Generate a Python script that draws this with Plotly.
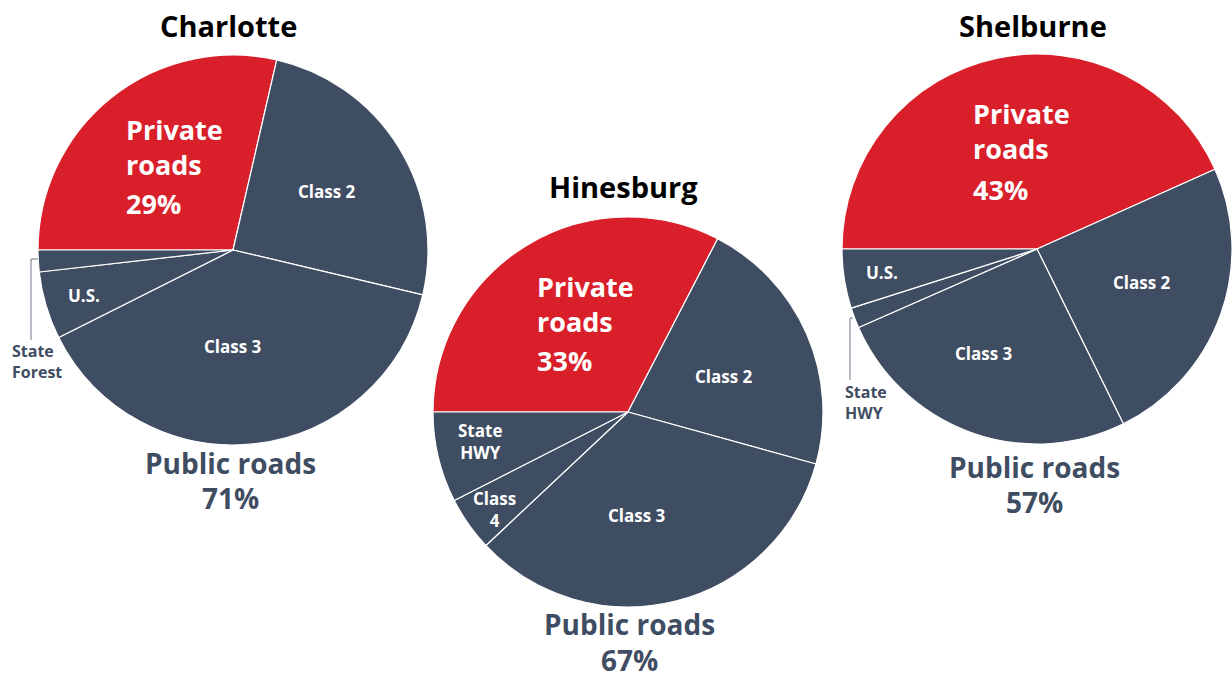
import plotly.graph_objects as go

# ---------------- data ----------------
towns = ["Charlotte", "Hinesburg", "Shelburne"]

charlotte_labels = ["Private roads", "Class 2", "Class 3", "U.S.", "State Forest"]
charlotte_values = [28.6, 25.1, 38.9, 5.6, 1.8]

hinesburg_labels = ["Private roads", "Class 2", "Class 3", "Class 4", "State HWY"]
hinesburg_values = [32.6, 21.7, 33.7, 4.5, 7.5]

shelburne_labels = ["Private roads", "Class 2", "Class 3", "State HWY", "U.S."]
shelburne_values = [43.3, 24.4, 25.7, 1.7, 4.9]

private_pct = [29, 33, 43]
public_pct = [71, 67, 57]

# ---------------- styling / layout ----------------
W, H = 1232, 679
RED = "#d9202a"
SLATE = "#3f4d63"
LEADER = "#8e98a5"
FONT = "Open Sans"


def fx(p):
    return p / W


def fy(p):
    return 1 - p / H


# pie circles in pixels: (cx, cy, r)
circles = [(233, 250, 195), (628, 412, 195), (1037, 249, 195)]

pies = [
    (charlotte_labels, charlotte_values),
    (hinesburg_labels, hinesburg_values),
    (shelburne_labels, shelburne_values),
]

fig = go.Figure()
for (labels, values), (cx, cy, r) in zip(pies, circles):
    x0, x1 = (cx - r) / W, min((cx + r) / W, 1.0)
    fig.add_trace(go.Pie(
        labels=labels,
        values=values,
        sort=False,
        direction="clockwise",
        rotation=-90,
        marker=dict(colors=[RED] + [SLATE] * (len(values) - 1),
                    line=dict(color="white", width=1.2)),
        textinfo="none",
        hoverinfo="skip",
        showlegend=False,
        domain=dict(x=[x0, x1], y=[fy(cy + r), fy(cy - r)]),
    ))

annotations = []


def add_text(text, x, y, size, color, xanchor="center", align="center"):
    annotations.append(dict(
        text=text, x=fx(x), y=fy(y), xref="paper", yref="paper",
        xanchor=xanchor, yanchor="middle", align=align, showarrow=False,
        font=dict(family=FONT, size=size, color=color, weight="bold"),
    ))


# titles
title_pos = [(228, 26), (623, 186), (1033, 26)]
for t, (x, y) in zip(towns, title_pos):
    add_text(t, x, y, 29, "black")

# private roads labels (left aligned)
private_x = [124, 535, 971]
private_line_y = [(147, 203), (304, 360), (131, 189)]
for p, x, (y1, y2) in zip(private_pct, private_x, private_line_y):
    add_text("Private<br>roads", x, y1, 27, "white", xanchor="left", align="left")
    add_text(f"{p}%", x, y2, 27, "white", xanchor="left", align="left")

# public roads labels
public_x = [230, 629, 1034]
public_line_y = [(463, 498), (624, 660), (467, 502)]
for p, x, (y1, y2) in zip(public_pct, public_x, public_line_y):
    add_text("Public roads", x, y1, 28, SLATE)
    add_text(f"{p}%", x, y2, 28, SLATE)

# slice labels inside (white)
inside = [
    (charlotte_labels[1], 327, 191), (charlotte_labels[2], 233, 346), (charlotte_labels[3], 84, 295),
    (hinesburg_labels[1], 724, 376), (hinesburg_labels[2], 637, 515),
    ("Class<br>4", 494, 509), ("State<br>HWY", 480, 441),
    (shelburne_labels[1], 1142, 282), (shelburne_labels[2], 984, 353), (shelburne_labels[4], 882, 272),
]
for t, x, y in inside:
    add_text(t, x, y, 17, "white")

# outside callout labels
add_text("State<br>Forest", 10, 361, 16, SLATE, xanchor="left", align="left")
add_text("State<br>HWY", 843, 402, 16, SLATE, xanchor="left", align="left")

shapes = []
leaders = [
    [(38, 259), (31, 259), (31, 340)],
    [(853, 318), (850, 318), (850, 380)],
]
for pts in leaders:
    for (xa, ya), (xb, yb) in zip(pts[:-1], pts[1:]):
        shapes.append(dict(type="line", xref="paper", yref="paper",
                           x0=fx(xa), y0=fy(ya), x1=fx(xb), y1=fy(yb),
                           line=dict(color=LEADER, width=1.3)))

fig.update_layout(
    width=W, height=H,
    margin=dict(l=0, r=0, t=0, b=0),
    paper_bgcolor="white",
    plot_bgcolor="white",
    annotations=annotations,
    shapes=shapes,
    showlegend=False,
)

fig.write_html("out.html", config={"displayModeBar": False})
